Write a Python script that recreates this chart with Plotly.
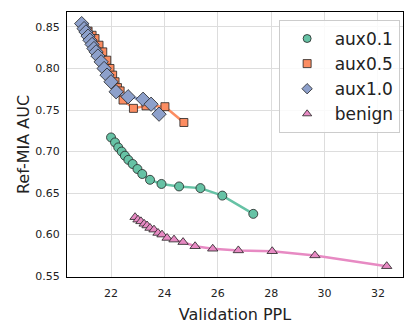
import plotly.graph_objects as go

# === values
aux01_ppl = [22.00, 22.15, 22.27, 22.40, 22.52, 22.65, 22.81, 22.99, 23.17, 23.46,
             23.89, 24.55, 25.35, 26.17, 27.33]
aux01_auc = [0.717, 0.711, 0.705, 0.700, 0.695, 0.690, 0.685, 0.679, 0.673, 0.666,
             0.661, 0.658, 0.656, 0.647, 0.625]

aux05_ppl = [20.99, 21.14, 21.29, 21.40, 21.55, 21.69, 21.84, 21.96, 22.06, 22.15,
             22.24, 22.34, 22.45, 22.84, 23.31, 24.02, 24.73]
aux05_auc = [0.850, 0.845, 0.840, 0.836, 0.828, 0.820, 0.810, 0.800, 0.792, 0.784,
             0.777, 0.773, 0.762, 0.752, 0.755, 0.754, 0.735]

aux10_ppl = [20.90, 20.99, 21.06, 21.14, 21.21, 21.29, 21.36, 21.44, 21.51, 21.63,
             21.74, 21.85, 22.00, 22.19, 22.64, 23.20, 23.50, 23.80]
aux10_auc = [0.854, 0.848, 0.844, 0.839, 0.834, 0.829, 0.824, 0.820, 0.815, 0.808,
             0.800, 0.792, 0.784, 0.772, 0.766, 0.763, 0.757, 0.745]

benign_ppl = [22.90, 23.01, 23.12, 23.24, 23.35, 23.46, 23.61, 23.76, 23.91, 24.10,
              24.36, 24.70, 25.15, 25.81, 26.77, 28.04, 29.64, 32.33]
benign_auc = [0.621, 0.618, 0.616, 0.613, 0.611, 0.608, 0.606, 0.602, 0.600, 0.596,
              0.594, 0.591, 0.586, 0.583, 0.581, 0.580, 0.575, 0.562]

series = [
    ("aux0.1", aux01_ppl, aux01_auc, "#66c2a5", "circle", 9),
    ("aux0.5", aux05_ppl, aux05_auc, "#fc8d62", "square", 8),
    ("aux1.0", aux10_ppl, aux10_auc, "#8da0cb", "diamond", 11),
    ("benign", benign_ppl, benign_auc, "#e78ac3", "triangle-up", 9),
]

fig = go.Figure()
for name, xs, ys, color, symbol, size in series:
    fig.add_trace(go.Scatter(
        x=xs, y=ys, mode="lines+markers", name=name, showlegend=False,
        line=dict(color=color, width=2.5),
        marker=dict(color=color, symbol=symbol, size=size,
                    line=dict(color="#222222", width=0.8)),
    ))

# legend entries: marker only, like the reference
for name, xs, ys, color, symbol, size in series:
    fig.add_trace(go.Scatter(
        x=[None], y=[None], mode="markers", name=name,
        marker=dict(color=color, symbol=symbol, size=8,
                    line=dict(color="#222222", width=0.8)),
    ))

axis_common = dict(
    showgrid=True, gridcolor="#dddddd", gridwidth=1,
    showline=True, linecolor="black", linewidth=1.2, mirror=True,
    ticks="outside", tickcolor="rgba(0,0,0,0)",
    zeroline=False, automargin=False,
    tickfont=dict(size=11, color="#222222"),
)

# page body has an 8px margin, so the figure is 8px smaller than the window
fig.update_layout(
    width=407, height=324,
    margin=dict(l=59, r=12, t=4, b=55),
    paper_bgcolor="white", plot_bgcolor="white",
    font=dict(family="DejaVu Sans", color="#222222"),
    xaxis=dict(range=[20.35, 32.94], tickvals=[22, 24, 26, 28, 30, 32], ticklen=6,
               title=dict(text="Validation PPL", font=dict(size=16), standoff=9),
               **axis_common),
    yaxis=dict(range=[0.549, 0.868],
               tickvals=[0.55, 0.60, 0.65, 0.70, 0.75, 0.80, 0.85],
               tickformat=".2f", ticklen=4,
               title=dict(text="Ref-MIA AUC", font=dict(size=16), standoff=1),
               **axis_common),
    legend=dict(x=0.99, y=0.97, xanchor="right", yanchor="top",
                bgcolor="rgba(255,255,255,0.85)", bordercolor="#cccccc",
                borderwidth=1, font=dict(size=17), tracegroupgap=0,
                itemwidth=45),
)

fig.write_html("out.html")
